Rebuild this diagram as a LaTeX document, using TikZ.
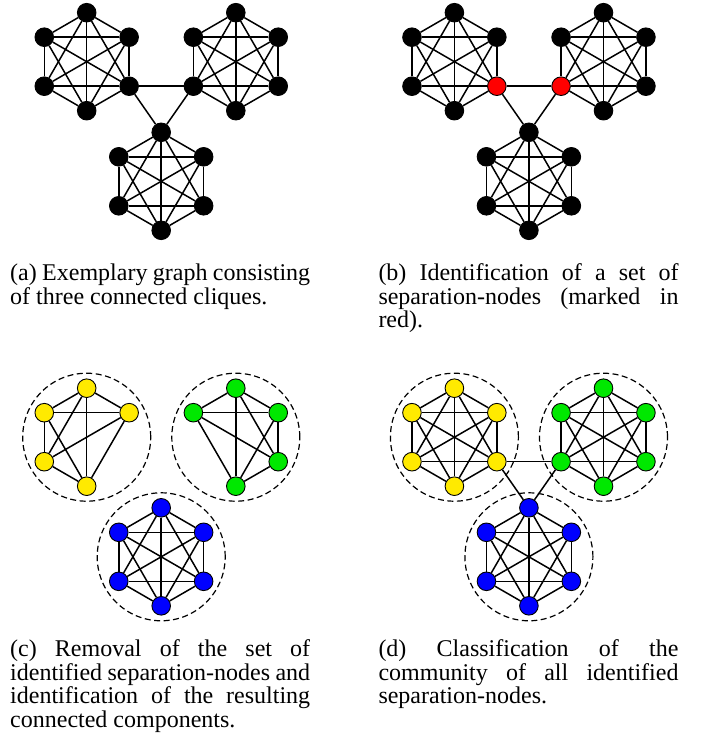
\documentclass[tikz,border=0pt]{standalone}
\usepackage{fontspec}
\setmainfont{Liberation Serif}
\definecolor{cyel}{RGB}{255,234,0}
\definecolor{cgrn}{RGB}{0,232,0}
\definecolor{cblu}{RGB}{0,0,255}
\definecolor{cred}{RGB}{255,0,0}
\newcommand\capfont{\fontsize{24pt}{23.5pt}\selectfont\hyphenpenalty=10000 \exhyphenpenalty=10000 \tolerance=10000 }
\tikzset{
  vtx/.style={circle, draw=black, line width=0.9pt, minimum size=18.6pt, inner sep=0pt},
  edg/.style={line width=1.5pt},
  grp/.style={circle, draw=black, dash pattern=on 6pt off 3.5pt, line width=1.2pt, minimum size=128pt, inner sep=0pt},
  captext/.style={anchor=base west, inner sep=0pt}
}
% #1 panel, #2 clique, #3 cx, #4 cy, #5 fill, #6 skipped index, #7 special index, #8 special colour
\newcommand\mkclique[8]{%
  \foreach \i [evaluate=\i as \ang using -150+60*\i] in {1,...,6} {%
    \ifnum\i=#6\relax\else
      \ifnum\i=#7\relax
        \node[vtx, fill=#8] (#1-#2-\i) at ([shift={(#3,#4)}]\ang:49) {};
      \else
        \node[vtx, fill=#5] (#1-#2-\i) at ([shift={(#3,#4)}]\ang:49) {};
      \fi
    \fi
  }%
  \foreach \i in {1,...,6} {%
    \foreach \j in {1,...,6} {%
      \ifnum\i<\j\relax
        \ifnum\i=#6\relax\else\ifnum\j=#6\relax\else
          \draw[edg] (#1-#2-\i) -- (#1-#2-\j);
        \fi\fi
      \fi
    }%
  }%
}
\begin{document}
\begin{tikzpicture}[x=1pt, y=-1pt]
\useasboundingbox (0,0) rectangle (710,741);

% panel (a)
\mkclique{a}{1}{86.7}{61.7}{black}{0}{0}{black}
\mkclique{a}{2}{235.8}{61.7}{black}{0}{0}{black}
\mkclique{a}{3}{161.2}{181.3}{black}{0}{0}{black}
\draw[edg] (a-1-3) -- (a-2-5);
\draw[edg] (a-1-3) -- (a-3-1);
\draw[edg] (a-2-5) -- (a-3-1);

% panel (b)
\mkclique{b}{1}{454.4}{61.7}{black}{0}{3}{cred}
\mkclique{b}{2}{603.5}{61.7}{black}{0}{5}{cred}
\mkclique{b}{3}{528.9}{181.3}{black}{0}{0}{black}
\draw[edg] (b-1-3) -- (b-2-5);
\draw[edg] (b-1-3) -- (b-3-1);
\draw[edg] (b-2-5) -- (b-3-1);

% panel (c)
\node[grp] (c-g1) at (86.7,437.2) {};
\node[grp] (c-g2) at (235.8,437.2) {};
\node[grp] (c-g3) at (161.2,556.8) {};
\mkclique{c}{1}{86.7}{437.2}{cyel}{3}{0}{black}
\mkclique{c}{2}{235.8}{437.2}{cgrn}{5}{0}{black}
\mkclique{c}{3}{161.2}{556.8}{cblu}{0}{0}{black}

% panel (d)
\node[grp] (d-g1) at (454.4,437.2) {};
\node[grp] (d-g2) at (603.5,437.2) {};
\node[grp] (d-g3) at (528.9,556.8) {};
\mkclique{d}{1}{454.4}{437.2}{cyel}{0}{0}{black}
\mkclique{d}{2}{603.5}{437.2}{cgrn}{0}{0}{black}
\mkclique{d}{3}{528.9}{556.8}{cblu}{0}{0}{black}
\draw[edg] (d-1-3) -- (d-2-5);
\draw[edg] (d-1-3) -- (d-3-1);
\draw[edg] (d-2-5) -- (d-3-1);

% captions
\node[captext] (cap-a) at (10,280.5) {\parbox[t]{300pt}{\capfont (a) Exemplary graph consisting\linebreak of three connected cliques.}};
\node[captext] (cap-b) at (378.3,280.5) {\parbox[t]{300pt}{\capfont (b) Identification of a set of\linebreak separation-nodes (marked in\linebreak red).}};
\node[captext] (cap-c) at (10,656.7) {\parbox[t]{300pt}{\capfont (c) Removal of the set of\linebreak identified separation-nodes and\linebreak identification of the resulting\linebreak connected components.}};
\node[captext] (cap-d) at (378.3,656.7) {\parbox[t]{300pt}{\capfont (d) Classification of the\linebreak community of all identified\linebreak separation-nodes.}};
\end{tikzpicture}
\end{document}
